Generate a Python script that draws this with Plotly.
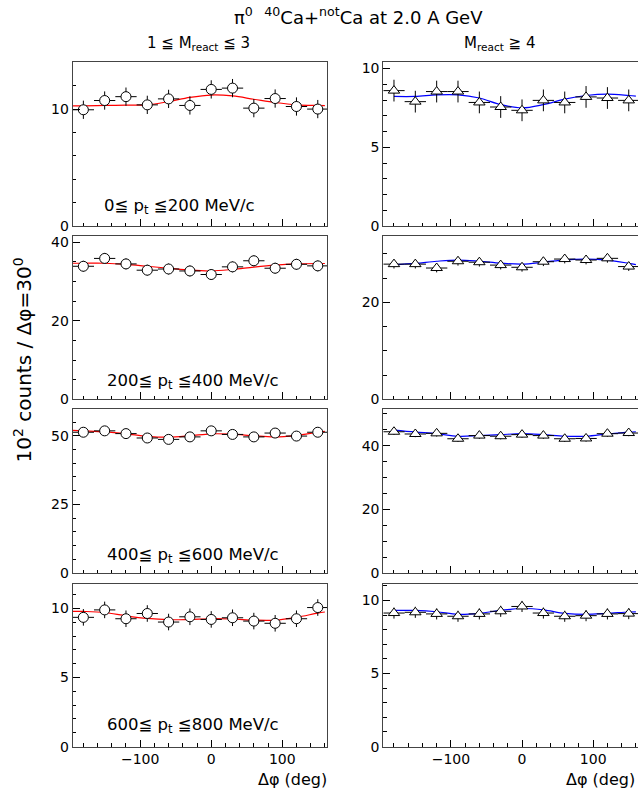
import plotly.graph_objects as go

# ---------------- data ----------------
phi = [-180, -150, -120, -90, -60, -30, 0, 30, 60, 90, 120, 150]
phi_half_bin = 15
fit_phi_left = [-195, -180, -150, -120, -90, -60, -30, 0, 30, 60, 90, 120, 150, 160]
fit_phi_right = [-180, -150, -120, -90, -60, -30, 0, 30, 60, 90, 120, 150, 160]

# 1 <= M_react <= 3 (circles, red fit)
low_pt0 = [9.94, 10.73, 11.06, 10.36, 10.87, 10.31, 11.68, 11.79, 10.08, 10.90, 10.22, 10.00]
low_pt0_err = [0.78] * 12
low_pt0_fit = [10.28, 10.28, 10.31, 10.33, 10.36, 10.64, 11.00, 11.20, 11.12, 10.84, 10.56, 10.36, 10.31, 10.30]

low_pt1 = [33.9, 35.9, 34.5, 32.9, 33.2, 32.7, 31.8, 33.75, 35.3, 33.4, 34.4, 34.0]
low_pt1_err = [1.4] * 12
low_pt1_fit = [34.67, 34.67, 34.67, 34.4, 33.9, 33.4, 32.9, 32.7, 33.1, 33.7, 34.2, 34.5, 34.6, 34.6]

low_pt2 = [51.3, 51.8, 50.8, 49.2, 48.7, 49.6, 51.8, 50.5, 49.6, 51.0, 49.9, 51.3]
low_pt2_err = [1.6] * 12
low_pt2_fit = [52.0, 51.8, 51.4, 50.7, 49.8, 49.5, 50.0, 50.7, 50.6, 50.0, 49.6, 50.2, 51.3, 51.6]

low_pt3 = [9.36, 9.90, 9.26, 9.64, 9.02, 9.40, 9.21, 9.33, 9.09, 8.93, 9.26, 10.07]
low_pt3_err = [0.6] * 12
low_pt3_fit = [9.80, 9.79, 9.71, 9.47, 9.28, 9.19, 9.21, 9.26, 9.24, 9.16, 9.16, 9.36, 9.67, 9.75]

# M_react >= 4 (triangles, blue fit)
high_pt0 = [8.60, 7.90, 8.54, 8.54, 7.85, 7.56, 7.35, 7.98, 7.85, 8.20, 8.13, 7.98]
high_pt0_err = [0.69] * 12
high_pt0_fit = [8.23, 8.23, 8.33, 8.33, 8.13, 7.71, 7.50, 7.71, 8.06, 8.29, 8.38, 8.29, 8.25]

high_pt1 = [27.9, 27.9, 27.1, 28.5, 28.3, 27.7, 27.25, 28.4, 28.95, 28.75, 29.1, 27.4]
high_pt1_err = [0.9] * 12
high_pt1_fit = [27.8, 28.07, 28.5, 28.75, 28.5, 28.1, 27.9, 28.3, 28.8, 28.95, 28.75, 28.07, 27.8]

high_pt2 = [44.4, 43.7, 43.9, 42.2, 43.2, 43.0, 43.5, 43.2, 42.2, 42.3, 43.8, 44.0]
high_pt2_err = [1.0] * 12
high_pt2_fit = [44.9, 44.3, 43.8, 43.0, 43.2, 43.5, 43.8, 43.5, 43.0, 43.0, 43.7, 44.3, 44.4]

high_pt3 = [9.14, 9.19, 9.08, 8.92, 9.08, 9.26, 9.59, 9.14, 8.92, 8.96, 9.08, 9.10]
high_pt3_err = [0.38] * 12
high_pt3_fit = [9.32, 9.32, 9.23, 9.05, 9.12, 9.32, 9.45, 9.36, 9.12, 9.05, 9.12, 9.21, 9.22]

pt_labels = ["0≦ p<sub>t</sub> ≦200 MeV/c", "200≦ p<sub>t</sub> ≦400 MeV/c",
             "400≦ p<sub>t</sub> ≦600 MeV/c", "600≦ p<sub>t</sub> ≦800 MeV/c"]
col_titles = ["1 ≦ M<sub>react</sub> ≦ 3", "M<sub>react</sub> ≧ 4"]
title_text = "π<sup>0</sup>\u00a0\u00a0<sup>40</sup>Ca+<sup>not</sup>Ca at 2.0 A GeV"
ytitle_text = "10<sup>2</sup> counts / Δφ=30<sup>0</sup>"
xtitle_text = "Δφ (deg)"

# y-axis settings per panel: (ymax, major dtick, minor dtick)
y_left = [(14.0, 10, 2), (41.6, 20, 5), (59.7, 25, 5), (11.8, 5, 1)]
y_right = [(10.4, 5, 1), (33.7, 20, 5), (51.5, 20, 5), (11.15, 5, 1)]
x_range = [-195, 163]

# ---------------- layout geometry ----------------
W, H = 638, 803
FONT = "DejaVu Sans, Verdana, sans-serif"
col_px = [(72.7, 327.0), (383.3, 638.0)]
row_px = [(61.0, 227.0), (237.0, 402.3), (412.3, 578.3), (589.0, 754.0)]

def fx(p):
    return p / W

def fy(p):
    return 1 - p / H

left_sets = [(low_pt0, low_pt0_err, low_pt0_fit), (low_pt1, low_pt1_err, low_pt1_fit),
             (low_pt2, low_pt2_err, low_pt2_fit), (low_pt3, low_pt3_err, low_pt3_fit)]
right_sets = [(high_pt0, high_pt0_err, high_pt0_fit), (high_pt1, high_pt1_err, high_pt1_fit),
              (high_pt2, high_pt2_err, high_pt2_fit), (high_pt3, high_pt3_err, high_pt3_fit)]

fig = go.Figure()
layout = dict(
    width=W, height=H, margin=dict(l=0, r=0, t=0, b=0),
    paper_bgcolor="white", plot_bgcolor="white", showlegend=False,
    font=dict(family=FONT, color="black", size=15),
)

annotations = []
for r in range(4):
    for c in range(2):
        k = r * 2 + c + 1
        xa = "x" if k == 1 else f"x{k}"
        ya = "y" if k == 1 else f"y{k}"
        if c == 0:
            vals, errs, fitv = left_sets[r]
            fphi = fit_phi_left
            fcolor = "#ff0000"
            sym = "circle"
            msize = 10
            ymax, dt, mdt = y_left[r]
        else:
            vals, errs, fitv = right_sets[r]
            fphi = fit_phi_right
            fcolor = "#0000ff"
            sym = "triangle-up"
            msize = 10
            ymax, dt, mdt = y_right[r]

        fig.add_trace(go.Scatter(
            x=fphi, y=fitv, mode="lines", line=dict(color=fcolor, width=1.2, shape="spline", smoothing=1.0),
            xaxis=xa, yaxis=ya, hoverinfo="skip"))
        fig.add_trace(go.Scatter(
            x=phi, y=vals, mode="markers",
            marker=dict(symbol=sym, size=msize, color="white", line=dict(color="black", width=1)),
            error_x=dict(type="constant", value=phi_half_bin, color="black", thickness=1, width=0),
            error_y=dict(type="data", array=errs, color="black", thickness=1, width=0),
            xaxis=xa, yaxis=ya))

        x0, x1 = col_px[c]
        t, b = row_px[r]
        last_row = (r == 3)
        xkey = "xaxis" if k == 1 else f"xaxis{k}"
        ykey = "yaxis" if k == 1 else f"yaxis{k}"
        layout[xkey] = dict(
            domain=[fx(x0), min(1.0, fx(x1))], anchor=ya, range=x_range,
            showgrid=False, zeroline=False, showline=True, linecolor="#444", linewidth=1,
            mirror=True, ticks="inside", ticklen=7, tickcolor="black", tickwidth=1,
            tick0=0, dtick=100, showticklabels=last_row,
            tickfont=dict(size=14, family=FONT),
            minor=dict(ticks="inside", ticklen=3.5, tick0=0, dtick=20, tickcolor="black", tickwidth=1),
        )
        layout[ykey] = dict(
            domain=[fy(b), fy(t)], anchor=xa, range=[0, ymax],
            showgrid=False, zeroline=False, showline=True, linecolor="#444", linewidth=1,
            mirror=(c == 0), ticks="inside", ticklen=7, tickcolor="black", tickwidth=1,
            tick0=0, dtick=dt, tickfont=dict(size=14, family=FONT),
            minor=dict(ticks="inside", ticklen=3.5, tick0=0, dtick=mdt, tickcolor="black", tickwidth=1),
        )
        if c == 0:
            annotations.append(dict(
                text=pt_labels[r], x=fx(102 if r == 0 else 105), y=fy([207, 384, 560, 733][r]),
                xref="paper", yref="paper", xanchor="left", yanchor="middle",
                showarrow=False, font=dict(size=16.5, family=FONT)))

annotations.append(dict(text=title_text, x=fx(358), y=fy(14), xref="paper", yref="paper",
                        xanchor="center", yanchor="middle", showarrow=False,
                        font=dict(size=18, family=FONT)))
annotations.append(dict(text=col_titles[0], x=fx(198), y=fy(42), xref="paper", yref="paper",
                        xanchor="center", yanchor="middle", showarrow=False,
                        font=dict(size=15, family=FONT)))
annotations.append(dict(text=col_titles[1], x=fx(499), y=fy(42), xref="paper", yref="paper",
                        xanchor="center", yanchor="middle", showarrow=False,
                        font=dict(size=15, family=FONT)))
annotations.append(dict(text=ytitle_text, x=fx(23), y=fy(363), xref="paper", yref="paper",
                        xanchor="center", yanchor="middle", textangle=-90, showarrow=False,
                        font=dict(size=20, family=FONT)))
for xr in (329, 637):
    annotations.append(dict(text=xtitle_text, x=fx(xr), y=fy(787), xref="paper", yref="paper",
                            xanchor="right", yanchor="middle", showarrow=False,
                            font=dict(size=16, family=FONT)))
layout["annotations"] = annotations

fig.update_layout(**layout)
fig.write_html("out.html")
